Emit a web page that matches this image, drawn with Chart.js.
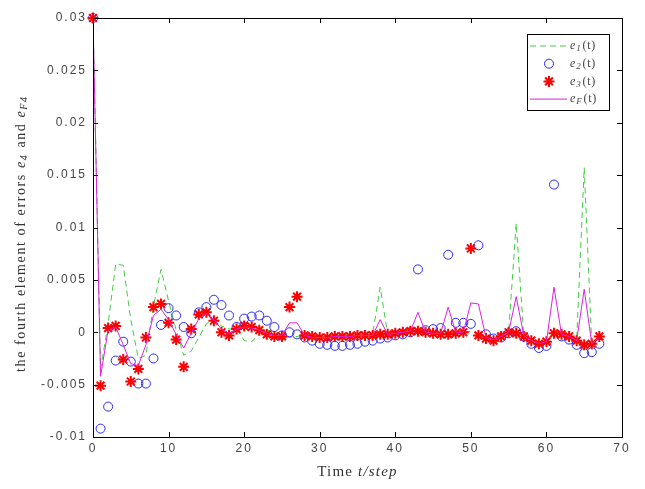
<!DOCTYPE html>
<html>
<head>
<meta charset="utf-8">
<script src="https://cdn.jsdelivr.net/npm/chart.js@4.4.0/dist/chart.umd.min.js"></script>
<style>
  html, body { margin: 0; padding: 0; background: #fff; }
  #wrap { width: 645px; height: 489px; }
</style>
</head>
<body>
<div id="wrap"><canvas id="errChart" width="645" height="489"></canvas></div>
<script>
// time steps
const steps = [0, 1, 2, 3, 4, 5, 6, 7, 8, 9, 10, 11, 12, 13, 14, 15, 16, 17, 18, 19,
  20, 21, 22, 23, 24, 25, 26, 27, 28, 29, 30, 31, 32, 33, 34, 35, 36, 37, 38, 39,
  40, 41, 42, 43, 44, 45, 46, 47, 48, 49, 50, 51, 52, 53, 54, 55, 56, 57, 58, 59,
  60, 61, 62, 63, 64, 65, 66, 67];

// e1(t) - dashed green
const e1 = [0.03, -0.0035, 0.0008, 0.0065, 0.0064, 0.0012, -0.0025, -0.0022, 0.0025, 0.0060,
  0.0030, 0.0002, -0.0022, -0.0018, -0.0005, 0.0008, 0.0013, 0.0006, 0.0003, 0.0004,
  -0.0008, -0.0009, -0.0002, 0.0002, 0.0000, -0.0003, -0.0005, -0.0004, -0.0003, -0.0003,
  -0.0003, -0.0003, -0.0003, -0.0003, -0.0002, -0.0002, -0.0002, -0.0002, 0.0043, -0.0002,
  -0.0001, 0.0000, 0.0001, 0.0001, 0.0000, -0.0001, -0.0001, -0.0001, 0.0000, 0.0000,
  0.0001, -0.0002, -0.0005, -0.0007, -0.0004, 0.0000, 0.0104, -0.0003, -0.0008, -0.0011,
  -0.0009, -0.0002, -0.0002, -0.0004, -0.0007, 0.0157, -0.0012, -0.0006];

// e2(t) - blue circles
const e2 = [0.03, -0.0092, -0.0071, -0.0027, -0.0009, -0.0028, -0.0049, -0.0049, -0.0025, 0.0007,
  0.0023, 0.0016, 0.0005, -0.0001, 0.0019, 0.0024, 0.0031, 0.0026, 0.0016, 0.0005,
  0.0013, 0.0015, 0.0016, 0.0011, 0.0005, -0.0003, 0.0000, -0.0002, -0.0005, -0.0008,
  -0.0011, -0.0012, -0.0013, -0.0013, -0.0012, -0.0011, -0.0009, -0.0008, -0.0006, -0.0005,
  -0.0003, -0.0002, 0.0000, 0.0060, 0.0002, 0.0003, 0.0004, 0.0074, 0.0009, 0.0009,
  0.0008, 0.0083, -0.0002, -0.0006, -0.0005, -0.0001, 0.0001, -0.0004, -0.0011, -0.0015,
  -0.0013, 0.0141, -0.0004, -0.0007, -0.0012, -0.0020, -0.0019, -0.0011];

// e3(t) - red stars
const e3 = [0.03, -0.0051, 0.0004, 0.0006, -0.0026, -0.0047, -0.0035, -0.0005, 0.0024, 0.0027,
  0.0009, -0.0007, -0.0033, 0.0003, 0.0017, 0.0019, 0.0011, 0.0000, -0.0003, 0.0003,
  0.0006, 0.0005, 0.0002, -0.0002, -0.0004, -0.0004, 0.0024, 0.0034, -0.0003, -0.0004,
  -0.0005, -0.0005, -0.0004, -0.0004, -0.0004, -0.0003, -0.0003, -0.0003, -0.0002, -0.0002,
  -0.0001, 0.0000, 0.0001, 0.0001, 0.0000, -0.0001, -0.0002, -0.0002, -0.0001, 0.0000,
  0.0080, -0.0003, -0.0006, -0.0008, -0.0004, 0.0000, -0.0001, -0.0004, -0.0008, -0.0011,
  -0.0009, -0.0001, -0.0002, -0.0004, -0.0008, -0.0012, -0.0011, -0.0004];

// eF(t) - magenta line
const eF = [0.03, -0.0042, 0.0002, 0.0005, -0.0012, -0.0030, -0.0032, -0.0012, 0.0016, 0.0022,
  0.0012, -0.0002, -0.0015, -0.0001, 0.0013, 0.0018, 0.0012, 0.0003, -0.0001, 0.0003,
  0.0005, 0.0004, 0.0002, -0.0001, -0.0003, -0.0003, 0.0009, 0.0009, -0.0003, -0.0005,
  -0.0005, -0.0005, -0.0004, -0.0004, -0.0004, -0.0003, -0.0003, -0.0003, 0.0012, -0.0002,
  -0.0001, 0.0000, 0.0001, 0.0019, 0.0000, -0.0001, -0.0001, 0.0024, 0.0000, 0.0000,
  0.0028, 0.0027, -0.0005, -0.0007, -0.0004, 0.0000, 0.0034, -0.0003, -0.0008, -0.0011,
  -0.0009, 0.0043, -0.0002, -0.0004, -0.0008, 0.0041, -0.0011, -0.0005];

const xTicks = [0, 10, 20, 30, 40, 50, 60, 70];
const yTicks = [-0.01, -0.005, 0, 0.005, 0.01, 0.015, 0.02, 0.025, 0.03];

const GREEN = '#44cc44';
const BLUE = '#2a2aff';
const RED = '#ff0000';
const MAGENTA = '#dd22dd';
const SERIF = '"Liberation Serif", serif';

function pairs(ys) {
  return steps.map((t, i) => ({ x: t, y: ys[i] }));
}

// draw "e" followed by a subscript and an optional tail
function drawSubText(ctx, x, y, base, sub, tail, size) {
  ctx.font = 'italic ' + size + 'px ' + SERIF;
  ctx.fillText(base, x, y);
  x += ctx.measureText(base).width;
  ctx.font = 'italic ' + Math.round(size * 0.72) + 'px ' + SERIF;
  ctx.fillText(sub, x, y + size * 0.25);
  x += ctx.measureText(sub).width + 1;
  if (tail) {
    ctx.font = size + 'px ' + SERIF;
    ctx.fillText(tail, x, y);
    x += ctx.measureText(tail).width;
  }
  return x;
}

// wide tick lettering
const spacingPlugin = {
  id: 'spacing',
  beforeDraw(chart) { chart.ctx.letterSpacing = '2px'; },
  afterDatasetsDraw(chart) { chart.ctx.letterSpacing = '0px'; }
};

// box, inside ticks, titles and legend, drawn the matlab way
const framePlugin = {
  id: 'frame',
  afterDraw(chart) {
    const { ctx, chartArea: a, scales } = chart;
    ctx.save();
    ctx.strokeStyle = '#000';
    ctx.lineWidth = 1;
    ctx.strokeRect(Math.round(a.left) + 0.5, Math.round(a.top) + 0.5,
      Math.round(a.right - a.left), Math.round(a.bottom - a.top));
    const len = 5;
    ctx.beginPath();
    xTicks.forEach(v => {
      const px = Math.round(scales.x.getPixelForValue(v)) + 0.5;
      ctx.moveTo(px, a.bottom); ctx.lineTo(px, a.bottom - len);
      ctx.moveTo(px, a.top); ctx.lineTo(px, a.top + len);
    });
    yTicks.forEach(v => {
      const py = Math.round(scales.y.getPixelForValue(v)) + 0.5;
      ctx.moveTo(a.left, py); ctx.lineTo(a.left + len, py);
      ctx.moveTo(a.right, py); ctx.lineTo(a.right - len, py);
    });
    ctx.stroke();

    // axis titles
    ctx.fillStyle = '#333';
    ctx.textBaseline = 'middle';
    ctx.textAlign = 'left';
    ctx.letterSpacing = '1.2px';
    const xt1 = 'Time ';
    const xt2 = 't/step';
    ctx.font = '15px ' + SERIF;
    const w1 = ctx.measureText(xt1).width;
    ctx.font = 'italic 15px ' + SERIF;
    const w2 = ctx.measureText(xt2).width;
    const cx = (a.left + a.right) / 2 - (w1 + w2) / 2;
    ctx.font = '15px ' + SERIF;
    ctx.fillText(xt1, cx, 472);
    ctx.font = 'italic 15px ' + SERIF;
    ctx.fillText(xt2, cx + w1, 472);

    ctx.save();
    ctx.translate(21, (a.top + a.bottom) / 2);
    ctx.rotate(-Math.PI / 2);
    ctx.letterSpacing = '1.6px';
    ctx.font = '14px ' + SERIF;
    const yt = 'the fourth element of errors ';
    const yw = ctx.measureText(yt).width + 85;
    let yx = -yw / 2;
    ctx.fillText(yt, yx, 0);
    yx += ctx.measureText(yt).width;
    yx = drawSubText(ctx, yx, 0, 'e', '4', '', 14);
    ctx.font = '14px ' + SERIF;
    ctx.fillText(' and ', yx, 0);
    yx += ctx.measureText(' and ').width;
    drawSubText(ctx, yx, 0, 'e', 'F4', '', 14);
    ctx.restore();

    // legend
    const lx = 527, ly = 34, lw = 82, lh = 76;
    ctx.letterSpacing = '0.8px';
    ctx.fillStyle = '#fff';
    ctx.fillRect(lx, ly, lw, lh);
    ctx.strokeStyle = '#000';
    ctx.strokeRect(lx + 0.5, ly + 0.5, lw, lh);
    const rows = [
      { sub: '1', kind: 'dash', color: GREEN },
      { sub: '2', kind: 'circle', color: BLUE },
      { sub: '3', kind: 'star', color: RED },
      { sub: 'F', kind: 'line', color: MAGENTA }
    ];
    rows.forEach((r, i) => {
      const y = ly + 12 + i * 17.7;
      ctx.strokeStyle = r.color;
      ctx.lineWidth = 1;
      if (r.kind === 'dash' || r.kind === 'line') {
        ctx.setLineDash(r.kind === 'dash' ? [6, 4] : []);
        ctx.beginPath();
        ctx.moveTo(lx + 3, y); ctx.lineTo(lx + 40, y);
        ctx.stroke();
        ctx.setLineDash([]);
      } else {
        ctx.fillStyle = 'rgba(0,0,0,0)';
        ctx.lineWidth = r.kind === 'star' ? 2 : 1;
        Chart.helpers.drawPoint(ctx, {
          pointStyle: r.kind, radius: r.kind === 'star' ? 5.5 : 4.5, rotation: 0,
          borderWidth: ctx.lineWidth
        }, lx + 22, y);
        ctx.lineWidth = 1;
      }
      ctx.fillStyle = '#444';
      drawSubText(ctx, lx + 43, y, 'e', r.sub, '(t)', 12);
    });
    ctx.restore();
  }
};

const tickFont = { family: '"Liberation Sans", sans-serif', size: 12 };

const ctx = document.getElementById('errChart').getContext('2d');
new Chart(ctx, {
  type: 'scatter',
  data: {
    datasets: [
      {
        label: 'e1(t)',
        data: pairs(e1),
        showLine: true,
        borderColor: GREEN,
        borderWidth: 1,
        borderDash: [6, 4],
        pointRadius: 0,
        order: 4
      },
      {
        label: 'e2(t)',
        data: pairs(e2),
        showLine: false,
        pointStyle: 'circle',
        pointRadius: 4.5,
        borderColor: BLUE,
        borderWidth: 1,
        backgroundColor: 'rgba(0,0,0,0)',
        clip: 8,
        order: 3
      },
      {
        label: 'e3(t)',
        data: pairs(e3),
        showLine: false,
        pointStyle: 'star',
        pointRadius: 5.5,
        borderColor: RED,
        borderWidth: 2,
        backgroundColor: RED,
        clip: 8,
        order: 2
      },
      {
        label: 'eF(t)',
        data: pairs(eF),
        showLine: true,
        borderColor: MAGENTA,
        borderWidth: 1,
        pointRadius: 0,
        order: 1
      }
    ]
  },
  options: {
    responsive: false,
    animation: false,
    devicePixelRatio: 1,
    layout: { padding: { top: 18, right: 23, left: 0, bottom: 0 } },
    plugins: {
      legend: { display: false },
      tooltip: { enabled: false }
    },
    scales: {
      x: {
        type: 'linear',
        min: 0,
        max: 70,
        afterBuildTicks: s => { s.ticks = xTicks.map(v => ({ value: v })); },
        afterFit: s => { s.height = 52; },
        grid: { display: false, drawTicks: false },
        border: { display: false },
        ticks: {
          padding: 4,
          color: '#444',
          font: tickFont,
          callback: v => String(v)
        }
      },
      y: {
        type: 'linear',
        min: -0.01,
        max: 0.03,
        afterBuildTicks: s => { s.ticks = yTicks.map(v => ({ value: v })); },
        afterFit: s => { s.width = 93; },
        grid: { display: false, drawTicks: false },
        border: { display: false },
        ticks: {
          padding: 6,
          color: '#444',
          font: tickFont,
          callback: v => String(+v.toFixed(3))
        }
      }
    }
  },
  plugins: [spacingPlugin, framePlugin]
});
</script>
</body>
</html>
